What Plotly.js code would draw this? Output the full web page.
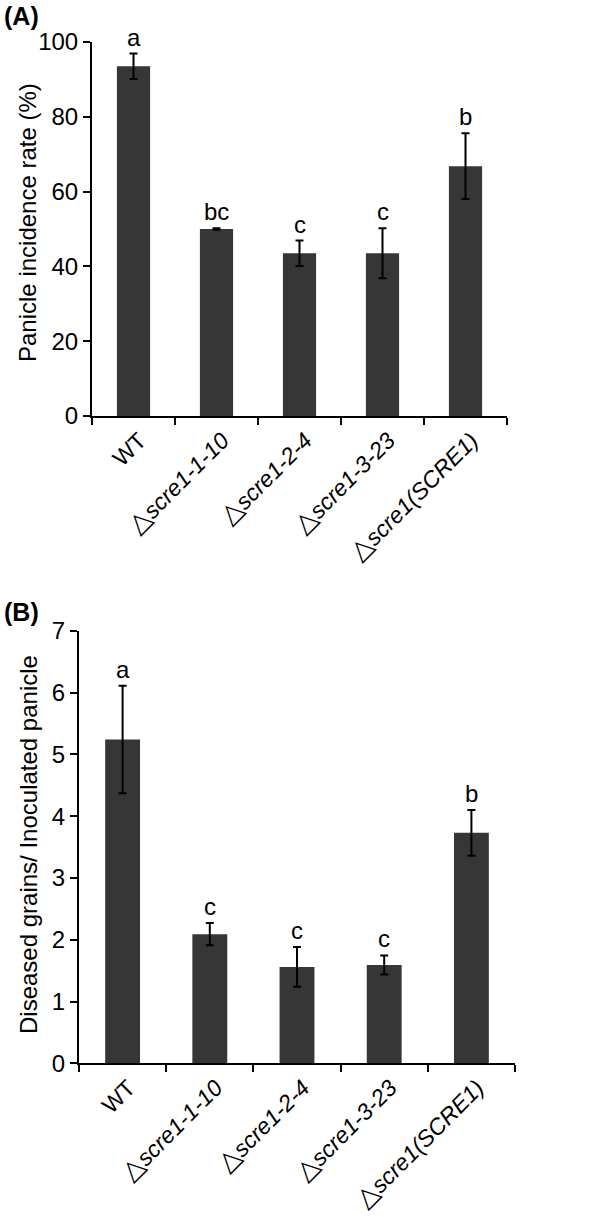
<!DOCTYPE html>
<html>
<head>
<meta charset="utf-8">
<script src="https://cdn.plot.ly/plotly-3.0.1.min.js"></script>
<style>
html,body{margin:0;padding:0;background:#fff;}
#chart{width:614px;height:1217px;}
</style>
</head>
<body>
<div id="chart"></div>
<script>
// Categories and tick labels
const categories = ["WT", "scre1-1-10", "scre1-2-4", "scre1-3-23", "scre1(SCRE1)"];
const TRI = '<span style="font-family:DejaVu Sans;font-size:27px">△</span>';
const tickLabels = ["WT", TRI + "<i>scre1-1-10</i>", TRI + "<i>scre1-2-4</i>", TRI + "<i>scre1-3-23</i>", TRI + "<i>scre1(SCRE1)</i>"];

// Panel A: panicle incidence rate (%)
const incidence = [93.5, 50.0, 43.5, 43.5, 66.8];
const incidenceErr = [3.4, 0.2, 3.4, 6.7, 8.8];
const incidenceLetters = ["a", "bc", "c", "c", "b"];

// Panel B: diseased grains / inoculated panicle
const grains = [5.24, 2.09, 1.56, 1.59, 3.73];
const grainsErr = [0.87, 0.18, 0.32, 0.155, 0.37];
const grainsLetters = ["a", "c", "c", "c", "b"];

const titleA = "Panicle incidence rate (%)";
const titleB = "Diseased grains/ Inoculated panicle";

const FONT = "Liberation Sans, Arial, sans-serif";
const BAR = "#363636";
const W = 614, H = 1217;

function px(x){ return x / W; }
function py(y){ return 1 - y / H; }

const traces = [
  {
    type: "bar", x: categories, y: incidence, xaxis: "x", yaxis: "y",
    marker: {color: BAR},
    error_y: {type: "data", array: incidenceErr, visible: true, color: "#000", thickness: 2, width: 4},
    hoverinfo: "none"
  },
  {
    type: "bar", x: categories, y: grains, xaxis: "x2", yaxis: "y2",
    marker: {color: BAR},
    error_y: {type: "data", array: grainsErr, visible: true, color: "#000", thickness: 2, width: 4},
    hoverinfo: "none"
  }
];

const annotations = [];
categories.forEach((c, i) => {
  annotations.push({x: c, y: incidence[i] + incidenceErr[i], xref: "x", yref: "y",
    text: incidenceLetters[i], showarrow: false, yanchor: "bottom", yshift: 1,
    font: {family: FONT, size: 24, color: "#000"}});
  annotations.push({x: c, y: grains[i] + grainsErr[i], xref: "x2", yref: "y2",
    text: grainsLetters[i], showarrow: false, yanchor: "bottom", yshift: 1,
    font: {family: FONT, size: 24, color: "#000"}});
});
annotations.push({x: 0.004, y: 1.0, xref: "paper", yref: "paper", xanchor: "left", yanchor: "top",
  text: "<b>(A)</b>", showarrow: false, font: {family: FONT, size: 25, color: "#000"}});
annotations.push({x: 0.004, y: py(596), xref: "paper", yref: "paper", xanchor: "left", yanchor: "top",
  text: "<b>(B)</b>", showarrow: false, font: {family: FONT, size: 25, color: "#000"}});
// y-axis titles
annotations.push({x: px(28), y: py(223), xref: "paper", yref: "paper", xanchor: "center", yanchor: "middle",
  textangle: -90, text: titleA, showarrow: false, font: {family: FONT, size: 24, color: "#000"}});
annotations.push({x: px(28), y: py(845), xref: "paper", yref: "paper", xanchor: "center", yanchor: "middle",
  textangle: -90, text: titleB, showarrow: false, font: {family: FONT, size: 24, color: "#000"}});

const xCommon = {
  type: "category", categoryorder: "array", categoryarray: categories,
  tickmode: "array", tickvals: categories, ticktext: tickLabels,
  tickson: "boundaries", ticks: "outside", ticklen: 7, tickwidth: 2, tickcolor: "#000",
  showline: true, linecolor: "#000", linewidth: 2, showgrid: false, zeroline: false,
  tickangle: -45, tickfont: {family: FONT, size: 23, color: "#000"},
  ticklabelshift: 6,
  range: [-0.5, 4.5], fixedrange: true
};
const yCommon = {
  ticks: "outside", ticklen: 7, tickwidth: 2, tickcolor: "#000",
  showline: true, linecolor: "#000", linewidth: 2, showgrid: false, zeroline: false,
  tickfont: {family: FONT, size: 24, color: "#000"}, fixedrange: true
};

const layout = {
  width: W, height: H,
  margin: {l: 0, r: 0, t: 0, b: 0},
  paper_bgcolor: "#fff", plot_bgcolor: "#fff",
  showlegend: false, bargap: 0.6,
  xaxis: Object.assign({}, xCommon, {domain: [px(92), px(507)], anchor: "y"}),
  yaxis: Object.assign({}, yCommon, {domain: [py(416), py(42)], anchor: "x", range: [0, 100],
    tickvals: [0, 20, 40, 60, 80, 100]}),
  xaxis2: Object.assign({}, xCommon, {domain: [px(79), px(515)], anchor: "y2"}),
  yaxis2: Object.assign({}, yCommon, {domain: [py(1063.3), py(630.7)], anchor: "x2", range: [0, 7],
    tickvals: [0, 1, 2, 3, 4, 5, 6, 7]}),
  annotations: annotations
};

Plotly.newPlot("chart", traces, layout, {displayModeBar: false, staticPlot: true});
</script>
</body>
</html>
